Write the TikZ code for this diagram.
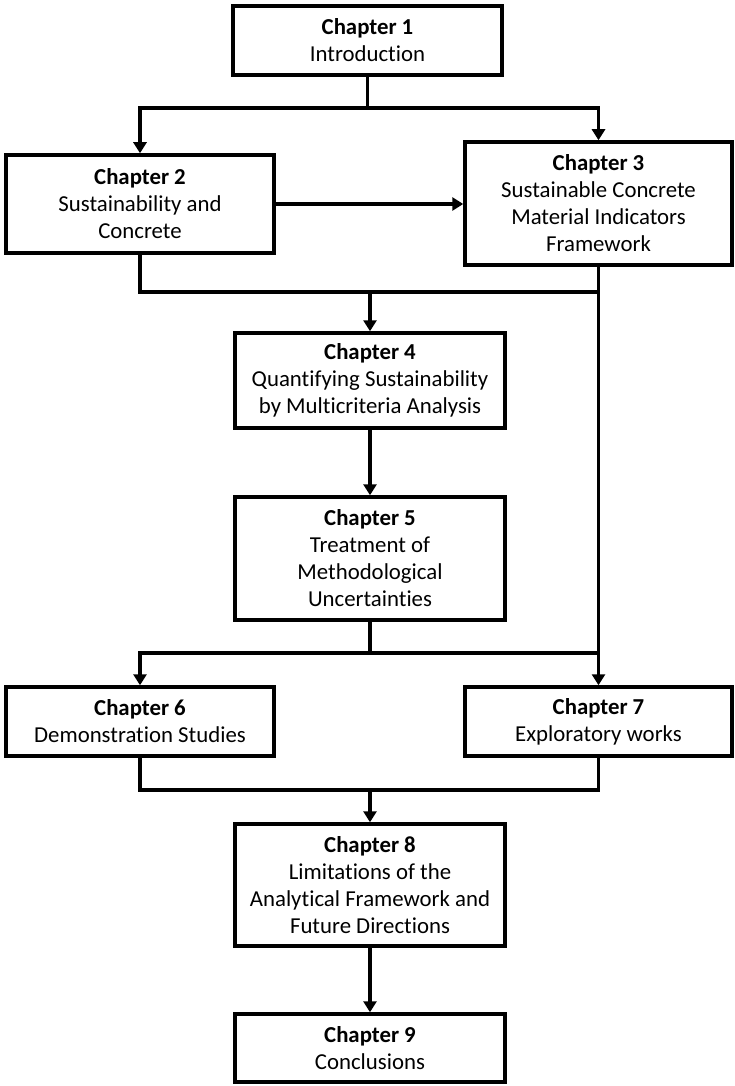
\documentclass[tikz,border=0pt]{standalone}
\usepackage{fontspec}
\setmainfont{Carlito}[Ligatures=NoCommon]
\usetikzlibrary{arrows.meta}
\begin{document}
\begin{tikzpicture}[x=1pt,y=-1pt,
  chap/.style={draw=black, line width=3.5pt, align=center, inner sep=0pt,
    font=\fontsize{22.8}{27}\selectfont},
  link/.style={draw=black, line width=3.5pt},
  arr/.style={link, -{Triangle[length=11pt,width=13pt]}}]
\useasboundingbox (0,0) rectangle (735,1086);

% chapter boxes
\node[chap, minimum width=269pt, minimum height=69pt]  (c1) at (367.5,40.5) {\textbf{Chapter 1}\\Introduction};
\node[chap, minimum width=268pt, minimum height=98pt]  (c2) at (140,204) {\textbf{Chapter 2}\\Sustainability and\\Concrete};
\node[chap, minimum width=267pt, minimum height=123pt] (c3) at (598.5,203.5) {\textbf{Chapter 3}\\Sustainable Concrete\\Material Indicators\\Framework};
\node[chap, minimum width=270pt, minimum height=95pt]  (c4) at (370,380.5) {\textbf{Chapter 4}\\Quantifying Sustainability\\by Multicriteria Analysis};
\node[chap, minimum width=270pt, minimum height=123pt] (c5) at (370,558.5) {\textbf{Chapter 5}\\Treatment of\\Methodological\\Uncertainties};
\node[chap, minimum width=268pt, minimum height=69pt]  (c6) at (140,721.5) {\textbf{Chapter 6}\\Demonstration Studies};
\node[chap, minimum width=267pt, minimum height=69pt]  (c7) at (598.5,721.5) {\textbf{Chapter 7}\\Exploratory works};
\node[chap, minimum width=270pt, minimum height=122pt] (c8) at (370,885) {\textbf{Chapter 8}\\Limitations of the\\Analytical Framework and\\Future Directions};
\node[chap, minimum width=270pt, minimum height=68pt]  (c9) at (370,1048) {\textbf{Chapter 9}\\Conclusions};

% junction points of the branching connectors
\coordinate (j1) at (367.5,108);
\coordinate (j2) at (370,292);
\coordinate (j3) at (370,653);
\coordinate (j4) at (370,790);

% Chapter 1 splits to Chapters 2 and 3
\draw[link] (c1.south) -- (j1);
\draw[arr] (j1) -| (c2.north);
\draw[arr] (j1) -| (c3.north);
\draw[arr] (c2.east) -- (c3.west |- c2.east);

% Chapters 2 and 3 feed Chapter 4
\draw[link] (c2.south) |- (c3.south |- j2);
\draw[arr] (j2) -- (c4.north);
\draw[arr] (c3.south) -- (c7.north);

\draw[arr] (c4.south) -- (c5.north);

% Chapter 5 leads to Chapters 6 and 7
\draw[link] (c5.south) -- (j3);
\draw[arr] (j3) -| (c6.north);
\draw[link] (j3) -- (c7.north |- j3);

% Chapters 6 and 7 merge into Chapter 8
\draw[link] (c6.south) |- (j4) -| (c7.south);
\draw[arr] (j4) -- (c8.north);

\draw[arr] (c8.south) -- (c9.north);
\end{tikzpicture}
\end{document}
